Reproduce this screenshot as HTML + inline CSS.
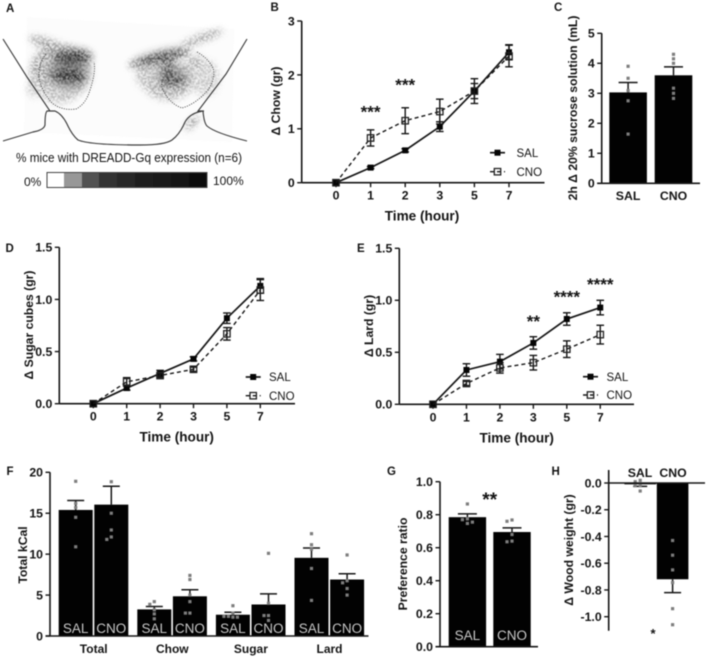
<!DOCTYPE html>
<html lang="en">
<head>
<meta charset="utf-8">
<title>DREADD-Gq feeding figure</title>
<style>
html,body{margin:0;padding:0;background:#fff;width:709px;height:660px;overflow:hidden}
svg{display:block;filter:blur(.55px)}
text{font-family:"Liberation Sans",sans-serif;fill:#141414}
.b{font-weight:bold}
</style>
</head>
<body>
<svg id="fig" xmlns="http://www.w3.org/2000/svg" width="709" height="660" viewBox="0 0 709 660">
<defs>
<filter id="grain" filterUnits="userSpaceOnUse" x="0" y="0" width="260" height="150">
<feTurbulence type="fractalNoise" baseFrequency="0.6" numOctaves="3" seed="7" result="n"/>
<feColorMatrix in="n" type="matrix" values="0 0 0 0 0  0 0 0 0 0  0 0 0 0 0  7 0 0 0 -3" result="m"/>
<feGaussianBlur in="SourceGraphic" stdDeviation="3.5" result="s"/>
<feComposite in="s" in2="m" operator="in" result="c"/>
<feGaussianBlur in="c" stdDeviation="0.45"/>
</filter>
<filter id="soft" filterUnits="userSpaceOnUse" x="0" y="0" width="260" height="150"><feGaussianBlur stdDeviation="5"/></filter>
</defs>
<g>
<polygon points="27,17 234,29 232,142 24,132" fill="#fcfcfc"/>
<g filter="url(#soft)" fill="#444">
<ellipse cx="68" cy="72" rx="20" ry="18" opacity=".45"/>
<ellipse cx="72" cy="57" rx="18" ry="6" opacity=".5"/>
<ellipse cx="172" cy="76" rx="16" ry="10" opacity=".4"/>
<ellipse cx="160" cy="57" rx="24" ry="4" opacity=".5" transform="rotate(-14 160 57)"/>
</g>
<g filter="url(#grain)">
<ellipse cx="50" cy="45" rx="22" ry="5" fill="#777" transform="rotate(20 50 45)"/>
<ellipse cx="60" cy="72" rx="30" ry="28" fill="#8a8a8a"/>
<ellipse cx="60" cy="92" rx="18" ry="11" fill="#aaa"/>
<ellipse cx="34" cy="88" rx="7" ry="9" fill="#bbb"/>
<ellipse cx="68" cy="76" rx="18" ry="9" fill="#111"/>
<ellipse cx="72" cy="57" rx="20" ry="8" fill="#1a1a1a"/>
<ellipse cx="168" cy="80" rx="26" ry="20" fill="#999"/>
<ellipse cx="205" cy="78" rx="14" ry="18" fill="#bbb"/>
<ellipse cx="148" cy="76" rx="12" ry="12" fill="#aaa"/>
<ellipse cx="160" cy="58" rx="32" ry="5" fill="#1a1a1a" transform="rotate(-14 160 58)"/>
<ellipse cx="202" cy="38" rx="22" ry="3.5" fill="#777" transform="rotate(-20 202 38)"/>
<ellipse cx="172" cy="80" rx="14" ry="7" fill="#1a1a1a"/>
<ellipse cx="168" cy="66" rx="6" ry="12" fill="#333"/>
<ellipse cx="195" cy="62" rx="8" ry="7" fill="#999"/>
<ellipse cx="192" cy="123" rx="9" ry="2.5" fill="#444" transform="rotate(-45 192 123)"/>
</g>
<path fill="none" stroke="#444" stroke-width=".8" stroke-dasharray="1.2 1.2" d="M46,54 Q38,64 39,78 Q42,92 52,103 Q62,111 76,109 Q86,104 90,90 Q96,72 94,62"/>
<path fill="none" stroke="#444" stroke-width=".8" stroke-dasharray="1.2 1.2" d="M197,52 Q208,58 213,68 Q216,78 208,90 Q196,104 182,108 Q170,104 163,90 Q160,84 164,78"/>
<path fill="none" stroke="#3c3c3c" stroke-width="1.15" d="M3,39 L27,77 L50,111 H47 Q45,113 45,125 Q44,130 33,132 L3,141 M50,111 H55 Q62,114 67,124 Q72,135 78,140 Q90,145 140,145 Q165,145 172,140 Q180,134 185,122 Q190,113 203,111 Q204,123 207,126 Q215,133 247,141 M247,39 L226,74 L198,111 H204"/>
<text x="16" y="162" font-size="12.6" textLength="226" lengthAdjust="spacingAndGlyphs">% mice with DREADD-Gq expression (n=6)</text>
<text x="24" y="186" font-size="12">0%</text>
<text x="213" y="185" font-size="12">100%</text>
<g>
<rect x="47" y="172.5" width="17" height="15" fill="#fff"/>
<rect x="64" y="172.5" width="18" height="15" fill="#979797"/>
<rect x="82" y="172.5" width="17" height="15" fill="#525252"/>
<rect x="99" y="172.5" width="18" height="15" fill="#333"/>
<rect x="117" y="172.5" width="18" height="15" fill="#282828"/>
<rect x="135" y="172.5" width="18" height="15" fill="#1e1e1e"/>
<rect x="153" y="172.5" width="18" height="15" fill="#1a1a1a"/>
<rect x="171" y="172.5" width="18" height="15" fill="#151515"/>
<rect x="189" y="172.5" width="18" height="15" fill="#0c0c0c"/>
<rect x="47" y="172.5" width="160" height="15" fill="none" stroke="#444" stroke-width="1"/>
</g>
</g>
</svg>
<script>
// Shared categories
const hours = ['0', '1', '2', '3', '5', '7'];
const groupLabels = ['SAL', 'CNO'];

// Panel B
const chowSal = [0, 0.28, 0.6, 1.04, 1.7, 2.42];
const chowSalErr = [0, 0.02, 0.03, 0.09, 0.14, 0.14];
const chowCno = [0, 0.83, 1.15, 1.32, 1.7, 2.35];
const chowCnoErr = [0, 0.15, 0.24, 0.23, 0.23, 0.2];
const chowTicks = ['0', '1', '2', '3'];

// Panel C
const sucroseMeans = [3.03, 3.6];
const sucroseErr = [0.33, 0.28];
const sucrosePoints = [[3.9, 3.5, 3.09, 2.75, 1.64], [4.3, 4.15, 4.0, 3.17, 3.0, 2.83]];
const sucroseTicks = ['0', '1', '2', '3', '4', '5'];

// Panel D
const sugarSal = [0, 0.15, 0.29, 0.43, 0.82, 1.13];
const sugarSalErr = [0, 0.02, 0.03, 0.02, 0.05, 0.07];
const sugarCno = [0, 0.21, 0.27, 0.33, 0.67, 1.09];
const sugarCnoErr = [0, 0.04, 0.02, 0.02, 0.06, 0.1];
const lineTicks15 = ['0.0', '0.5', '1.0', '1.5'];

// Panel E
const lardSal = [0, 0.33, 0.41, 0.59, 0.82, 0.93];
const lardSalErr = [0, 0.06, 0.07, 0.06, 0.06, 0.07];
const lardCno = [0, 0.2, 0.35, 0.4, 0.53, 0.67];
const lardCnoErr = [0, 0.02, 0.05, 0.07, 0.08, 0.09];

// Panel F
const kcalCategories = ['Total', 'Chow', 'Sugar', 'Lard'];
const kcalMeans = [15.4, 16.05, 3.25, 4.85, 2.6, 3.85, 9.55, 6.9];
const kcalErr = [1.15, 2.25, 0.35, 0.8, 0.3, 1.3, 1.2, 0.7];
const kcalPoints = [
  [18.9, 16.2, 15.7, 14.5, 10.9],
  [18.85, 15, 12.95, 12.1, 11.8],
  [4.2, 3.87, 3.2, 2.7, 2.1],
  [7.4, 6.9, 5, 4.2, 2.8, 2.8],
  [3.7, 2.8, 2.4, 2.3, 2.3, 2.4],
  [10.1, 4, 2.5, 2.5, 1.9],
  [12.5, 11.15, 10.6, 8.25, 4.35],
  [9.9, 6.75, 6.5, 5.8, 5]
];
const kcalTicks = ['0', '5', '10', '15', '20'];

// Panel G
const prefMeans = [0.785, 0.695];
const prefErr = [0.02, 0.025];
const prefPoints = [[0.865, 0.775, 0.77, 0.755, 0.747], [0.768, 0.76, 0.68, 0.64, 0.636]];
const prefTicks = ['0.0', '0.2', '0.4', '0.6', '0.8', '1.0'];

// Panel H
const woodMeans = [-0.01, -0.72];
const woodErr = [0.015, 0.1];
const woodPoints = [[0.02, 0.01, -0.02, -0.02, -0.06], [-0.43, -0.54, -0.65, -0.745, -0.94, -1.06]];
const woodTicks = ['0.0', '-0.2', '-0.4', '-0.6', '-0.8', '-1.0'];

const svg = document.getElementById('fig');
const NS = 'http://www.w3.org/2000/svg';
const INK = '#161616';

function mk(tag, name, attrs, parent) {
  const el = document.createElementNS(NS, tag);
  
  
  for (const k in attrs) el.setAttribute(k, attrs[k]);
  (parent || svg).appendChild(el);
  return el;
}
function label(name, str, x, y, size, anchor, bold, parent, fill) {
  const t = mk('text', name, { x: x, y: y, 'font-size': size, 'text-anchor': anchor }, parent);
  if (bold) t.setAttribute('class', 'b');
  if (fill) t.style.fill = fill;
  t.textContent = str;
  return t;
}
function seg(name, x1, y1, x2, y2, w, parent, dash) {
  const l = mk('line', name, { x1: x1, y1: y1, x2: x2, y2: y2, stroke: INK, 'stroke-width': w }, parent);
  if (dash) l.setAttribute('stroke-dasharray', dash);
  return l;
}
function yTitle(name, str, x, y, size, parent) {
  const t = label(name, str, x, y, size, 'middle', true, parent);
  t.setAttribute('transform', 'rotate(-90 ' + x + ' ' + y + ')');
  return t;
}
function yAxis(parent, cfg) {
  seg('y-axis', cfg.ax, cfg.top, cfg.ax, cfg.bottom, 1.6, parent);
  cfg.ticks.forEach(function (s) {
    const py = cfg.y(parseFloat(s));
    seg('y-tick', cfg.ax - 4.5, py, cfg.ax, py, 1.4, parent);
    label('y-tick-label', s, cfg.ax - 7, py + 4.4, 12.3, 'end', true, parent);
  });
}
function lineChart(c) {
  const g = mk('g', c.name, {});
  const x = function (i) { return c.x0 + i * c.dx; };
  const y = function (v) { return c.y0 - v * (c.y0 - c.yTop) / c.max; };
  yAxis(g, { ax: c.ax, top: c.yTop, bottom: c.y0, y: y, ticks: c.ticks });
  seg('x-axis', c.ax, c.y0, c.axEnd, c.y0, 1.6, g);
  hours.forEach(function (h, i) {
    seg('x-tick', x(i), c.y0, x(i), c.y0 + 4.5, 1.4, g);
    label('x-tick-label', h, x(i), c.y0 + 17, 12.3, 'middle', true, g);
  });
  label('x-axis-title', 'Time (hour)', c.titleX, c.y0 + 38, 13.6, 'middle', true, g);
  yTitle('y-axis-title', c.yLabel, c.yTitleX, c.yTitleY, 12.2, g);
  series('sal', c.sal, c.salErr, false);
  series('cno', c.cno, c.cnoErr, true);
  function series(key, vals, errs, open) {
    const pts = vals.map(function (v, i) { return x(i) + ',' + y(v); }).join(' ');
    const line = mk('polyline', key + '-line', { points: pts, fill: 'none', stroke: INK, 'stroke-width': open ? 1.4 : 1.7 }, g);
    if (open) line.setAttribute('stroke-dasharray', '4 3');
    vals.forEach(function (v, i) {
      if (errs[i] > 0) {
        seg(key + '-error-bar', x(i), y(v + errs[i]), x(i), y(v - errs[i]), 1.4, g);
        seg(key + '-error-cap', x(i) - 3.8, y(v + errs[i]), x(i) + 3.8, y(v + errs[i]), 1.4, g);
        seg(key + '-error-cap', x(i) - 3.8, y(v - errs[i]), x(i) + 3.8, y(v - errs[i]), 1.4, g);
      }
      marker(key + '-point', x(i), y(v), open, g);
    });
  }
  legend(g, c.legendX, c.legendY1, c.legendY2, c.legendText);
  (c.stars || []).forEach(function (s) {
    label('significance-stars', s.t, x(s.i), s.yPx + 9.5, 17, 'middle', true, g);
  });
}
function marker(name, px, py, open, parent) {
  if (open) {
    return mk('rect', name, { x: px - 3.2, y: py - 3.2, width: 6.4, height: 6.4, fill: 'none', stroke: '#222', 'stroke-width': 1.3 }, parent);
  }
  return mk('rect', name, { x: px - 3, y: py - 3, width: 6, height: 6, fill: '#050505' }, parent);
}
function legend(g, lx, y1, y2, tx) {
  seg('legend-sal-line', lx, y1, lx + 15, y1, 1.7, g);
  marker('legend-sal-marker', lx + 7.5, y1, false, g);
  label('legend-sal-label', 'SAL', tx, y1 + 4.2, 11.5, 'start', false, g);
  seg('legend-cno-line', lx, y2, lx + 15, y2, 1.4, g, '4 3');
  marker('legend-cno-marker', lx + 7.5, y2, true, g);
  label('legend-cno-label', 'CNO', tx, y2 + 4.2, 11.5, 'start', false, g);
}
function swarm(vals, y, size) {
  const placed = [];
  return vals.map(function (v) {
    const py = y(v);
    const order = [0, -1, 1, -2, 2, -3, 3];
    for (let k = 0; k < order.length; k++) {
      const dx = order[k] * size;
      const hit = placed.some(function (p) { return Math.abs(p.dy - py) < 3.6 && Math.abs(p.dx - dx) < 3.6; });
      if (!hit) { placed.push({ dx: dx, dy: py }); return { dx: dx, py: py }; }
    }
    return { dx: 0, py: py };
  });
}
function drawBar(g, c, i, left, width, y) {
  const mean = c.means[i], err = c.errs[i], base = y(0), top = y(mean);
  const dir = mean >= 0 ? 1 : -1;
  const cx = left + width / 2;
  mk('rect', c.barName + '-bar', { x: left, y: Math.min(base, top), width: width, height: Math.abs(base - top), fill: '#020202' }, g);
  const capY = y(mean + dir * err);
  seg(c.barName + '-error-bar', cx, top, cx, capY, 1.5, g);
  seg(c.barName + '-error-cap', cx - c.cap, capY, cx + c.cap, capY, 1.5, g);
  swarm(c.points[i], y, c.spread).forEach(function (p) {
    mk('rect', c.barName + '-data-point', { x: cx + p.dx - 1.6, y: p.py - 1.6, width: 3.2, height: 3.2, fill: '#7e7e7e' }, g);
  });
}

// Panel letters
[['A', 6, 12], ['B', 270.5, 11], ['C', 554, 11], ['D', 5.5, 252], ['E', 357, 252], ['F', 6.5, 475], ['G', 387, 475], ['H', 551.5, 475]].forEach(function (p) {
  label('panel-letter-' + p[0].toLowerCase(), p[0], p[1], p[2], 11.5, 'start', true);
});

lineChart({
  name: 'chart-b-chow', sal: chowSal, salErr: chowSalErr, cno: chowCno, cnoErr: chowCnoErr,
  ticks: chowTicks, max: 3, x0: 336, dx: 34.6, y0: 182.7, yTop: 21, ax: 301.7, axEnd: 544.5,
  titleX: 422, yLabel: '\u0394 Chow (gr)', yTitleX: 280, yTitleY: 101,
  legendX: 490, legendY1: 152.7, legendY2: 171.7, legendText: 516.5,
  stars: [{ t: '***', i: 1, yPx: 108 }, { t: '***', i: 2, yPx: 81 }]
});
lineChart({
  name: 'chart-d-sugar', sal: sugarSal, salErr: sugarSalErr, cno: sugarCno, cnoErr: sugarCnoErr,
  ticks: lineTicks15, max: 1.5, x0: 93.3, dx: 33.4, y0: 403.7, yTop: 247.3, ax: 59.3, axEnd: 295,
  titleX: 176.7, yLabel: '\u0394 Sugar cubes (gr)', yTitleX: 33, yTitleY: 325,
  legendX: 245.7, legendY1: 377, legendY2: 395.7, legendText: 269
});
lineChart({
  name: 'chart-e-lard', sal: lardSal, salErr: lardSalErr, cno: lardCno, cnoErr: lardCnoErr,
  ticks: lineTicks15, max: 1.5, x0: 433, dx: 33.45, y0: 404.3, yTop: 248.3, ax: 399.3, axEnd: 634,
  titleX: 516.7, yLabel: '\u0394 Lard (gr)', yTitleX: 373, yTitleY: 326,
  legendX: 583, legendY1: 376.7, legendY2: 395, legendText: 606.5,
  stars: [{ t: '**', i: 3, yPx: 317.7 }, { t: '****', i: 4, yPx: 293 }, { t: '****', i: 5, yPx: 280.7 }]
});

// Panel C
(function () {
  const g = mk('g', 'chart-c-sucrose', {});
  const ax = 601.7, y0 = 183.3, top = 33.3;
  const y = function (v) { return y0 - v * (y0 - top) / 5; };
  sucroseMeans.forEach(function (m, i) {
    drawBar(g, { means: sucroseMeans, errs: sucroseErr, points: sucrosePoints, barName: 'sucrose-' + groupLabels[i].toLowerCase(), cap: 9.5, spread: 4.5 }, i, 609.3 + i * 45.4, 37.6, y);
    label('x-tick-label', groupLabels[i], 628.1 + i * 45.4, 200, 12.3, 'middle', true, g);
  });
  yAxis(g, { ax: ax, top: top, bottom: y0, y: y, ticks: sucroseTicks });
  seg('x-axis', ax - 4.5, y0, 700, y0, 1.6, g);
  yTitle('y-axis-title', '2h \u0394 20% sucrose solution (mL)', 577, 108, 12.2, g);
})();

// Panel F
(function () {
  const g = mk('g', 'chart-f-kcal', {});
  const ax = 50, y0 = 636, top = 472.3;
  const y = function (v) { return y0 - v * (y0 - top) / 20; };
  kcalMeans.forEach(function (m, i) {
    const grp = Math.floor(i / 2), k = i % 2;
    const left = 58.7 + grp * 78.6 + k * 35.6;
    drawBar(g, { means: kcalMeans, errs: kcalErr, points: kcalPoints, barName: kcalCategories[grp].toLowerCase() + '-' + groupLabels[k].toLowerCase(), cap: 8.5, spread: 4.5 }, i, left, 34, y);
    label('bar-label', groupLabels[k], left + 17, 633, 13.5, 'middle', false, g, '#c8c8c8');
  });
  kcalCategories.forEach(function (cat, i) {
    label('x-category-label', cat, 93.7 + i * 78.6, 653, 12, 'middle', true, g);
  });
  yAxis(g, { ax: ax, top: top, bottom: y0, y: y, ticks: kcalTicks });
  seg('x-axis', ax - 4.5, y0, 368.5, y0, 1.6, g);
  yTitle('y-axis-title', 'Total kCal', 27, 555, 12.2, g);
})();

// Panel G
(function () {
  const g = mk('g', 'chart-g-preference', {});
  const ax = 440, y0 = 646.7, top = 481.7;
  const y = function (v) { return y0 - v * (y0 - top); };
  prefMeans.forEach(function (m, i) {
    const left = 448.7 + i * 44.6;
    drawBar(g, { means: prefMeans, errs: prefErr, points: prefPoints, barName: 'preference-' + groupLabels[i].toLowerCase(), cap: 9.5, spread: 5 }, i, left, 37.4, y);
    label('bar-label', groupLabels[i], left + 18.7, 640, 13.5, 'middle', false, g, '#c8c8c8');
  });
  yAxis(g, { ax: ax, top: top, bottom: y0, y: y, ticks: prefTicks });
  seg('x-axis', ax - 4.5, y0, 538, y0, 1.6, g);
  yTitle('y-axis-title', 'Preference ratio', 407, 564, 12.2, g);
  label('significance-stars', '**', 489.7, 506, 19, 'middle', true, g);
})();

// Panel H
(function () {
  const g = mk('g', 'chart-h-wood', {});
  const ax = 608.7, y0 = 483, minY = 616.7;
  const y = function (v) { return y0 - v * (minY - y0); };
  woodMeans.forEach(function (m, i) {
    const left = 624.4 + i * 32.4;
    drawBar(g, { means: woodMeans, errs: woodErr, points: woodPoints, barName: 'wood-' + groupLabels[i].toLowerCase(), cap: i ? 8.5 : 7, spread: 5 }, i, left, 31.6, y);
    label('x-tick-label', groupLabels[i], 640 + i * 33, 477, 12.3, 'middle', true, g);
  });
  yAxis(g, { ax: ax, top: 470, bottom: 630.7, y: y, ticks: woodTicks });
  seg('zero-line', ax, y0, 705, y0, 1.6, g);
  yTitle('y-axis-title', '\u0394 Wood weight (gr)', 573, 550, 12.2, g);
  label('significance-star', '*', 653, 638, 13, 'middle', true, g);
})();
</script>
</body>
</html>
